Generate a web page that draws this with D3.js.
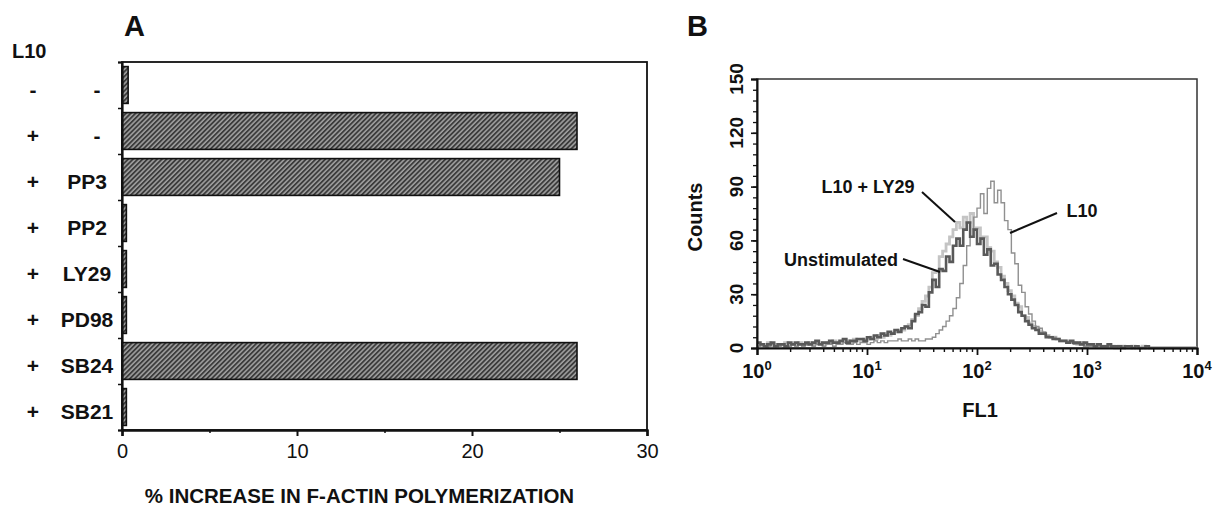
<!DOCTYPE html>
<html><head><meta charset="utf-8">
<script src="https://cdn.jsdelivr.net/npm/d3@7"></script>
<style>
body{margin:0;background:#fff}
svg{display:block}
text{font-family:"Liberation Sans",Arial,Helvetica,sans-serif;fill:#111}
</style>
</head><body>
<svg id="c" width="1218" height="508"></svg>
<script>
// ---------- Panel A data ----------
const l10Flags = ["-","+","+","+","+","+","+","+"];
const inhibitors = ["-","-","PP3","PP2","LY29","PD98","SB24","SB21"];
const increase = [0.35,26,25,0.25,0.25,0.25,26,0.25];
const xTicksA = [0,10,20,30];
const xMinorA = [5,15,25];
const xTitleA = "% INCREASE IN F-ACTIN POLYMERIZATION";

// ---------- Panel B data (histogram counts per channel, 32 channels per decade) ----------
const channelsPerDecade = 32;
const unstimulated = [
 3,2,1,2,3,1,2,2,1,3,
 2,3,2,2,3,2,3,4,2,3,
 3,4,3,3,4,5,3,4,4,5,
 5,4,6,5,7,6,8,7,9,8,
 10,9,11,12,11,15,19,20,24,23,
 31,38,34,44,43,51,48,57,61,57,
 66,70,62,66,58,61,52,55,46,47,
 41,38,34,30,27,24,20,18,15,13,
 11,10,8,8,6,6,5,5,4,4,
 3,4,3,3,2,3,2,2,1,2,
 1,1,2,1,1,1,0,1,1,0,
 1,0,0,1,0,0,0,0,0,0,
 0,0,0,0,0,0,0,0,0];
const l10ly29 = [
 2,1,2,3,1,2,1,2,3,2,
 2,2,3,2,2,3,2,3,3,2,
 3,3,4,3,3,4,4,3,5,4,
 4,5,5,6,5,7,6,8,7,8,
 9,10,10,12,13,16,18,22,26,29,
 34,42,43,51,54,58,62,66,70,67,
 73,70,75,67,67,62,62,56,54,48,
 45,40,36,32,29,25,23,18,17,14,
 12,11,9,8,7,6,6,5,4,4,
 3,3,3,2,3,2,2,1,2,1,
 1,1,1,1,0,1,1,0,0,1,
 0,0,1,0,0,0,0,0,0,0,
 0,0,0,0,0,0,0,0,0];
const l10 = [
 1,2,1,1,2,1,1,2,1,1,
 2,1,2,1,2,2,1,2,2,1,
 2,2,1,2,2,3,2,2,3,2,
 3,3,2,3,4,3,4,3,4,4,
 4,5,4,4,5,4,5,4,4,5,
 5,6,8,10,12,15,18,22,28,36,
 46,57,62,73,78,86,75,89,93,81,
 88,81,71,66,53,47,35,31,23,19,
 15,12,11,9,7,6,6,5,4,4,
 3,3,2,2,2,1,1,1,1,0,
 1,0,1,0,0,1,0,0,0,0,
 0,0,0,0,0,0,0,0,0,0,
 0,0,0,0,0,0,0,0,0];
const yTicksB = [0,30,60,90,120,150];
const yMinorB = d3.range(0,151,6);
const xDecadesB = [1,10,100,1000,10000];
const decadeExponents = ["0","1","2","3","4"];

const svg = d3.select("#c");

// hatch pattern
const defs = svg.append("defs");
const pat = defs.append("pattern").attr("id","hatch").attr("patternUnits","userSpaceOnUse")
  .attr("width",3.4).attr("height",3.4).attr("patternTransform","rotate(45)");
pat.append("rect").attr("width",3.4).attr("height",3.4).attr("fill","#3c3c3c");
pat.append("line").attr("x1",0.9).attr("y1",0).attr("x2",0.9).attr("y2",3.4)
  .attr("stroke","#d8d8d8").attr("stroke-width",1.0);

// ================= Panel A =================
const A = {l:122, r:647, t:62, b:430};
const xA = d3.scaleLinear().domain([0,30]).range([A.l, A.r]);
const yA = d3.scaleBand().domain(d3.range(inhibitors.length)).range([A.t, A.b]).paddingInner(0.2).paddingOuter(0.1);
const yBoundA = d3.scaleLinear().domain([0, inhibitors.length]).range([A.t, A.b]);

const gA = svg.append("g");
gA.append("rect").attr("x",A.l).attr("y",A.t).attr("width",A.r-A.l).attr("height",A.b-A.t)
  .attr("fill","none").attr("stroke","#111").attr("stroke-width",1.8);

gA.selectAll("rect.bar").data(increase).join("rect").attr("class","bar")
  .attr("x", xA(0)).attr("y",(d,i)=>yA(i)).attr("width",d=>xA(d)-xA(0)).attr("height",yA.bandwidth())
  .attr("fill","url(#hatch)").attr("stroke","#111").attr("stroke-width",1.6);

// bottom axis
const axA = gA.append("g").attr("transform",`translate(0,${A.b})`)
  .call(d3.axisBottom(xA).tickValues(xTicksA).tickSize(6).tickPadding(8).tickFormat(d3.format("d")));
axA.select(".domain").attr("stroke","#111").attr("stroke-width",2.4);
axA.selectAll(".tick line").attr("stroke","#111").attr("stroke-width",2);
axA.selectAll(".tick text").style("font-size","20px").style("font-family","'Liberation Sans',Arial,sans-serif").attr("fill","#222");
const axAm = gA.append("g").attr("transform",`translate(0,${A.b})`)
  .call(d3.axisBottom(xA).tickValues(xMinorA).tickSize(3).tickFormat(""));
axAm.select(".domain").remove();
axAm.selectAll(".tick line").attr("stroke","#111").attr("stroke-width",1.5);

// left boundary ticks
const axAl = gA.append("g").attr("transform",`translate(${A.l},0)`)
  .call(d3.axisLeft(yBoundA).tickValues(d3.range(inhibitors.length+1)).tickSize(4).tickFormat(""));
axAl.select(".domain").attr("stroke","#111").attr("stroke-width",2.2);
axAl.selectAll(".tick line").attr("stroke","#111").attr("stroke-width",1.5);

// row labels
gA.selectAll("text.flag").data(l10Flags).join("text").attr("class","flag")
  .attr("x",33).attr("y",(d,i)=>yA(i)+yA.bandwidth()/2+5).attr("dy","0.35em")
  .attr("text-anchor","middle").style("font-size","21px").style("font-weight","bold").text(d=>d);
gA.selectAll("text.inh").data(inhibitors).join("text").attr("class","inh")
  .attr("x",d=>d==="-"?97:87).attr("y",(d,i)=>yA(i)+yA.bandwidth()/2+5).attr("dy","0.35em")
  .attr("text-anchor","middle").style("font-size","21px").style("font-weight","bold").text(d=>d);
gA.append("text").attr("x",12).attr("y",58).style("font-size","20px").style("font-weight","bold").text("L10");
gA.append("text").attr("x",124).attr("y",36).style("font-size","29px").style("font-weight","bold").text("A");
gA.append("text").attr("x",(A.l+A.r)/2-25).attr("y",503).attr("text-anchor","middle")
  .style("font-size","20.5px").style("font-weight","bold").text(xTitleA);

// ================= Panel B =================
const B = {l:757, r:1197, t:79, b:348};
const xB = d3.scaleLog().domain([1,10000]).range([B.l,B.r]);
const yB = d3.scaleLinear().domain([0,150]).range([B.b,B.t]);
const gB = svg.append("g");

gB.append("rect").attr("x",B.l).attr("y",B.t).attr("width",B.r-B.l).attr("height",B.b-B.t)
  .attr("fill","none").attr("stroke","#333").attr("stroke-width",1.5);

const line = d3.line()
  .x((d,i)=>xB(Math.pow(10, i/channelsPerDecade)))
  .y(d=>yB(d))
  .curve(d3.curveStepAfter);

gB.append("path").datum(l10ly29).attr("d",line).attr("fill","none").attr("stroke","#c4c4c4").attr("stroke-width",2.8);
gB.append("path").datum(l10).attr("d",line).attr("fill","none").attr("stroke","#909090").attr("stroke-width",1.4);
gB.append("path").datum(unstimulated).attr("d",line).attr("fill","none").attr("stroke","#595959").attr("stroke-width",2.6);

// x axis B
const minorB = [];
xDecadesB.slice(0,-1).forEach(d=>{ for(let k=2;k<=9;k++) minorB.push(d*k); });
const axB = gB.append("g").attr("transform",`translate(0,${B.b})`)
  .call(d3.axisBottom(xB).tickValues(xDecadesB).tickSize(7).tickFormat(""));
axB.select(".domain").attr("stroke","#111").attr("stroke-width",2.2);
axB.selectAll(".tick line").attr("stroke","#111").attr("stroke-width",1.8);
const axBm = gB.append("g").attr("transform",`translate(0,${B.b})`)
  .call(d3.axisBottom(xB).tickValues(minorB).tickSize(4).tickFormat(""));
axBm.select(".domain").remove();
axBm.selectAll(".tick line").attr("stroke","#111").attr("stroke-width",1.4);

const xl = gB.selectAll("text.xl").data(xDecadesB).join("text").attr("class","xl")
  .attr("x",d=>xB(d)).attr("y",378).attr("text-anchor","middle")
  .style("font-size","20px").style("font-weight","bold");
xl.append("tspan").text("10");
xl.append("tspan").attr("dy",-8).style("font-size","13px").text((d,i)=>decadeExponents[i]);

// y axis B
const ayB = gB.append("g").attr("transform",`translate(${B.l},0)`)
  .call(d3.axisLeft(yB).tickValues(yTicksB).tickSize(6).tickFormat(""));
ayB.select(".domain").attr("stroke","#111").attr("stroke-width",2);
ayB.selectAll(".tick line").attr("stroke","#111").attr("stroke-width",1.6);
const ayBm = gB.append("g").attr("transform",`translate(${B.l},0)`)
  .call(d3.axisLeft(yB).tickValues(yMinorB).tickSize(4).tickFormat(""));
ayBm.select(".domain").remove();
ayBm.selectAll(".tick line").attr("stroke","#111").attr("stroke-width",1.3);

gB.selectAll("text.yl").data(yTicksB).join("text").attr("class","yl")
  .attr("transform",d=>`translate(736,${yB(d)}) rotate(-90)`).attr("dy","0.35em")
  .attr("text-anchor","middle").style("font-size","19px").style("font-weight","bold").text(d=>d);

gB.append("text").attr("transform","translate(695,217) rotate(-90)").attr("dy","0.35em")
  .attr("text-anchor","middle").style("font-size","20px").style("font-weight","bold").text("Counts");
gB.append("text").attr("x",980).attr("y",417).attr("text-anchor","middle")
  .style("font-size","20px").style("font-weight","bold").text("FL1");
gB.append("text").attr("x",687).attr("y",36).style("font-size","29px").style("font-weight","bold").text("B");

// annotations
const notes = [
  {t:"L10 + LY29", x:868, y:187, lx1:922, ly1:192, lx2:955, ly2:222},
  {t:"Unstimulated", x:841, y:260, lx1:903, ly1:259, lx2:940, ly2:272},
  {t:"L10", x:1082, y:211, lx1:1057, ly1:213, lx2:1010, ly2:233}
];
gB.selectAll("line.ann").data(notes).join("line").attr("class","ann")
  .attr("x1",d=>d.lx1).attr("y1",d=>d.ly1).attr("x2",d=>d.lx2).attr("y2",d=>d.ly2)
  .attr("stroke","#111").attr("stroke-width",2);
gB.selectAll("text.ann").data(notes).join("text").attr("class","ann")
  .attr("x",d=>d.x).attr("y",d=>d.y).attr("dy","0.35em").attr("text-anchor","middle")
  .style("font-size","18px").style("font-weight","bold").text(d=>d.t);
</script>
</body></html>
